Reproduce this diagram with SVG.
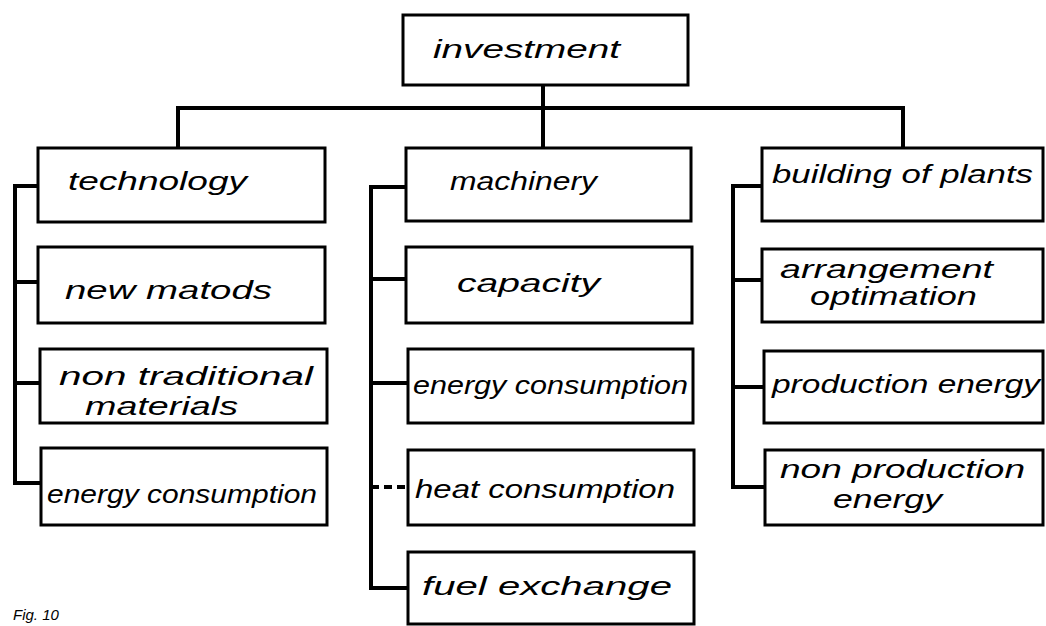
<svg xmlns="http://www.w3.org/2000/svg" width="1046" height="626" viewBox="0 0 1046 626">
<style>
.box{fill:#fff;stroke:#000;stroke-width:3}
.ln{fill:none;stroke:#000;stroke-width:4;stroke-linejoin:miter}
.dash{fill:none;stroke:#000;stroke-width:4;stroke-dasharray:8 5}
text{font-family:"Liberation Sans",Arial,sans-serif;font-style:italic;font-size:25px;fill:#000}
.fig{font-size:15px}
</style>
<rect width="1046" height="626" fill="#fff"/>
<g id="connectors">
<path class="ln" d="M543,85 V148"/>
<path class="ln" d="M178,148 V108 H903 V148"/>
<path class="ln" d="M38,186 H15 V483 H41"/>
<path class="ln" d="M15,282 H38 M15,383 H40"/>
<path class="ln" d="M406,187 H371 V588 H408"/>
<path class="ln" d="M371,279 H406 M371,383 H408"/>
<path class="dash" d="M371,487 H408"/>
<path class="ln" d="M762,186 H733 V487 H765"/>
<path class="ln" d="M733,280 H762 M733,387 H764"/>
</g>
<g id="n-investment"><rect class="box" x="403" y="15" width="285" height="70"/><text x="433" y="58" textLength="187" lengthAdjust="spacingAndGlyphs">investment</text></g>
<g id="n-technology"><rect class="box" x="38" y="148" width="287" height="74"/><text x="68" y="190" textLength="179" lengthAdjust="spacingAndGlyphs">technology</text></g>
<g id="n-newmatods"><rect class="box" x="38" y="247" width="287" height="76"/><text x="65" y="299" textLength="207" lengthAdjust="spacingAndGlyphs">new matods</text></g>
<g id="n-nontraditional"><rect class="box" x="40" y="349" width="287" height="74"/><text x="59" y="385" textLength="254" lengthAdjust="spacingAndGlyphs">non traditional</text><text x="85" y="415" textLength="153" lengthAdjust="spacingAndGlyphs">materials</text></g>
<g id="n-energy1"><rect class="box" x="41" y="448" width="286" height="77"/><text x="47" y="503" textLength="270" lengthAdjust="spacingAndGlyphs">energy consumption</text></g>
<g id="n-machinery"><rect class="box" x="406" y="148" width="285" height="73"/><text x="450" y="190" textLength="147" lengthAdjust="spacingAndGlyphs">machinery</text></g>
<g id="n-capacity"><rect class="box" x="406" y="247" width="286" height="76"/><text x="457" y="292" textLength="143" lengthAdjust="spacingAndGlyphs">capacity</text></g>
<g id="n-energy2"><rect class="box" x="408" y="349" width="285" height="74"/><text x="413" y="394" textLength="275" lengthAdjust="spacingAndGlyphs">energy consumption</text></g>
<g id="n-heat"><rect class="box" x="408" y="450" width="286" height="75"/><text x="415" y="498" textLength="260" lengthAdjust="spacingAndGlyphs">heat consumption</text></g>
<g id="n-fuel"><rect class="box" x="408" y="552" width="286" height="72"/><text x="422" y="595" textLength="250" lengthAdjust="spacingAndGlyphs">fuel exchange</text></g>
<g id="n-building"><rect class="box" x="762" y="148" width="281" height="73"/><text x="772" y="183" textLength="261" lengthAdjust="spacingAndGlyphs">building of plants</text></g>
<g id="n-arrangement"><rect class="box" x="762" y="249" width="281" height="73"/><text x="780" y="278" textLength="213" lengthAdjust="spacingAndGlyphs">arrangement</text><text x="810" y="305" textLength="167" lengthAdjust="spacingAndGlyphs">optimation</text></g>
<g id="n-production"><rect class="box" x="764" y="351" width="279" height="72"/><text x="772" y="393" textLength="268" lengthAdjust="spacingAndGlyphs">production energy</text></g>
<g id="n-nonproduction"><rect class="box" x="765" y="450" width="278" height="75"/><text x="780" y="478" textLength="245" lengthAdjust="spacingAndGlyphs">non production</text><text x="833" y="508" textLength="109" lengthAdjust="spacingAndGlyphs">energy</text></g>
<text class="fig" x="13" y="620">Fig. 10</text>
</svg>
